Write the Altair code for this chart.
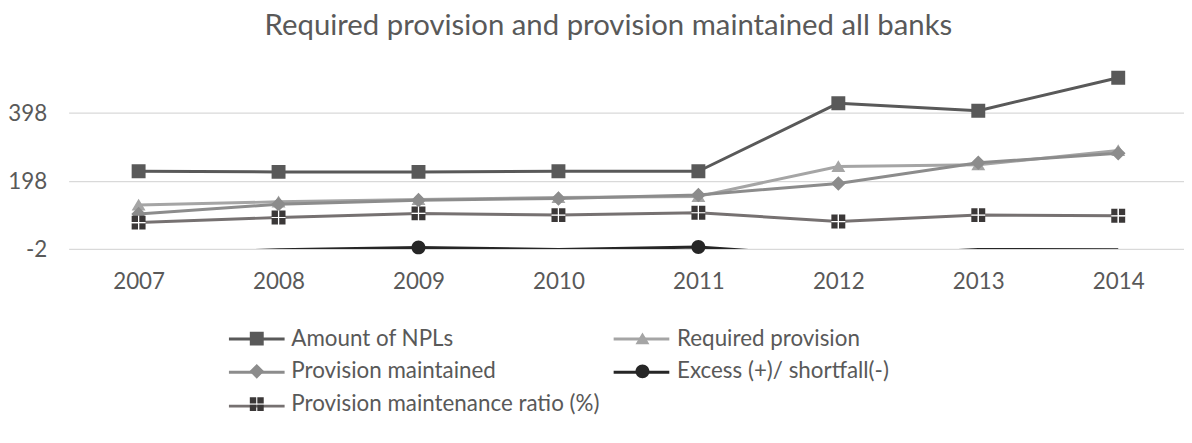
import altair as alt
import pandas as pd

years = [2007, 2008, 2009, 2010, 2011, 2012, 2013, 2014]
series_names = [
    "Amount of NPLs",
    "Required provision",
    "Provision maintained",
    "Excess (+)/ shortfall(-)",
    "Provision maintenance ratio (%)",
]
npl = [227, 225, 225, 227, 227, 427, 405, 502]
required = [128, 137, 144, 150, 153, 241, 246, 288]
maintained = [101, 130, 142, 147, 157, 191, 252, 280]
excess = [-16, -4, 3, -3, 4, -24, -3, -4]
ratio = [76, 91, 103, 98, 105, 79, 98, 96]

y_ticks = [-2, 198, 398]

line_colors = ["#595959", "#A5A5A5", "#8C8C8C", "#262626", "#767171"]
marker_colors = ["#595959", "#A5A5A5", "#8C8C8C", "#262626", "#3B3838"]

# invisible anchor points so every legend entry has the same extent
ext_m = "M-4.21,0ZM51.07,0ZM0,-2.214ZM0,2.214Z"
ext_l = "M49.494,0ZM0,-1.4286ZM0,1.4286Z"
marker_paths = [
    ext_m + "M-1,-1H1V1H-1Z",
    ext_m + "M0,-0.9L1,0.8H-1Z",
    ext_m + "M0,-1.05L1.05,0L0,1.05L-1.05,0Z",
    ext_m + "M-1,0A1,1,0,1,0,1,0A1,1,0,1,0,-1,0Z",
    ext_m + "M-1,-1H-0.08V-0.08H-1ZM0.08,-1H1V-0.08H0.08ZM-1,0.08H-0.08V1H-1ZM0.08,0.08H1V1H0.08Z",
]

# legend entries are laid out column by column
legend_order = [0, 2, 4, 1, 3]
dom_l = [series_names[i] for i in legend_order]
dom_m = [series_names[i] + "~" for i in legend_order]
rng_line = [line_colors[i] for i in legend_order]
rng_fill = [marker_colors[i] for i in legend_order]
rng_shape = [marker_paths[i] for i in legend_order]

rows = []
for name, vals in zip(series_names, [npl, required, maintained, excess, ratio]):
    for yr, v in zip(years, vals):
        rows.append({"year": yr, "value": v, "series": name, "series_m": name + "~"})
df = pd.DataFrame(rows)

FONT = "Lato"
TXT = "#595959"
FS = 22.5

x_enc = alt.X("year:Q", scale=alt.Scale(domain=[2006.5, 2014.47], nice=False, zero=False),
              axis=alt.Axis(values=years, format="d", title=None, grid=False, ticks=False,
                            tickSize=0, domain=False, labelFont=FONT, labelFontSize=FS,
                            labelColor=TXT, labelPadding=22, labelFlush=False))
y_enc = alt.Y("value:Q", scale=alt.Scale(domain=[-2, 598], nice=False, zero=False),
              axis=alt.Axis(values=y_ticks, title=None, grid=True, gridColor="#D9D9D9",
                            gridWidth=1.2, ticks=False, tickSize=0, domain=False,
                            labelExpr="'' + datum.value",
                            labelFont=FONT, labelFontSize=FS, labelColor=TXT, labelPadding=22))

common_legend = dict(
    orient="none", legendX=160, legendY=284, columns=2, columnPadding=0,
    rowPadding=1, symbolSize=196, labelFont=FONT, labelFontSize=FS,
    labelColor=TXT, symbolOffset=18, labelOffset=23.5, padding=0, title=None,
    labelLimit=500,
)

lines = alt.Chart(df).mark_line(strokeWidth=3, clip=True, strokeJoin="round").encode(
    x=x_enc, y=y_enc,
    stroke=alt.Stroke("series:N", scale=alt.Scale(domain=dom_l, range=rng_line),
                      legend=alt.Legend(symbolType="M-4,0H4" + ext_l, symbolStrokeWidth=3,
                                        labelExpr="''", **common_legend)),
)

points = alt.Chart(df).mark_point(filled=True, size=196, strokeWidth=0, opacity=1).encode(
    x=x_enc, y=y_enc,
    fill=alt.Fill("series_m:N", scale=alt.Scale(domain=dom_m, range=rng_fill),
                  legend=alt.Legend(symbolStrokeWidth=0, labelExpr="replace(datum.label, '~', '')",
                                    **common_legend)),
    shape=alt.Shape("series_m:N", scale=alt.Scale(domain=dom_m, range=rng_shape)),
    opacity=alt.condition("datum.value >= -2", alt.value(1), alt.value(0)),
)

cross = alt.Chart(df).transform_filter(
    alt.datum.series == series_names[4]
).mark_point(shape="M-1,0H1M0,-1V1", filled=False, size=196, color="white", strokeWidth=1.2, opacity=1).encode(
    x=x_enc, y=y_enc,
)

chart = alt.layer(lines, points, cross).properties(
    width=1122, height=205.3,
    padding={"left": 61, "top": 36, "right": 0, "bottom": 180},
    autosize=alt.AutoSizeParams(type="none"),
    background="white",
    title=alt.TitleParams(
        "Required provision and provision maintained all banks",
        font=FONT, fontSize=29.5, fontWeight="normal", color=TXT,
        anchor="middle", frame="group", dx=-18, offset=4,
    ),
).configure_view(stroke=None)

chart.save("out.html", embed_options={"renderer": "svg", "actions": False})
